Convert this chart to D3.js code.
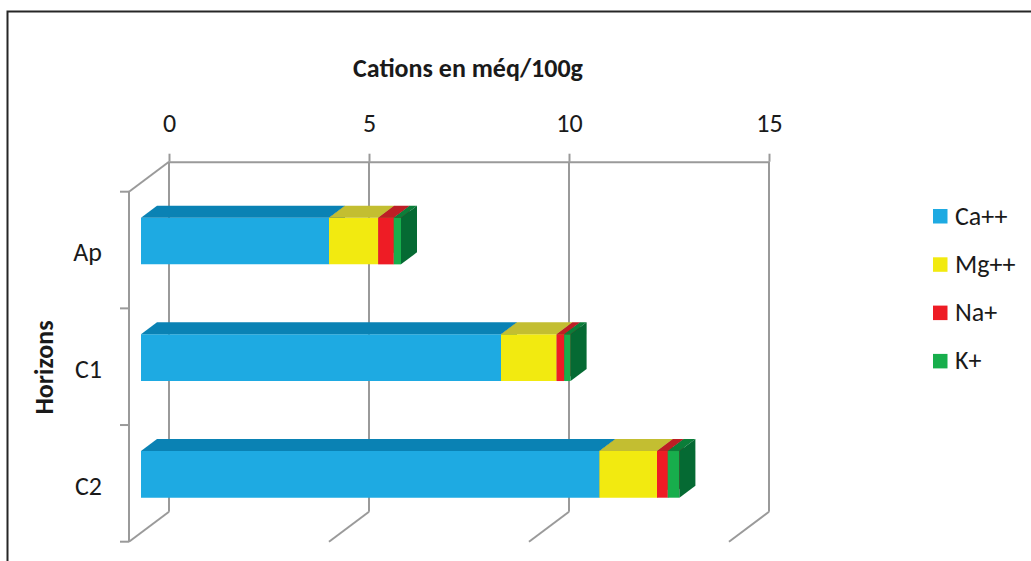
<!DOCTYPE html>
<html>
<head>
<meta charset="utf-8">
<script src="https://cdn.jsdelivr.net/npm/d3@7/dist/d3.min.js"></script>
<style>
  html, body { margin: 0; padding: 0; background: #fff; }
  svg { display: block; }
  text { font-family: Carlito, Lato, "Open Sans", sans-serif; fill: #1a1a1a; }
</style>
</head>
<body>
<svg id="chart" width="1031" height="561"></svg>
<script>
// Exchangeable cations per soil horizon (méq/100g)
const horizons = ["Ap", "C1", "C2"];
const seriesNames = ["Ca++", "Mg++", "Na+", "K+"];
const ca = [4.70, 9.00, 11.46];
const mg = [1.23, 1.39, 1.44];
const na = [0.39, 0.19, 0.27];
const k  = [0.18, 0.16, 0.29];
const xTicks = [0, 5, 10, 15];

const seriesValues = [ca, mg, na, k];
// front / top / side shades for each series
const faceColors = [
  { front: "#1eaae2", top: "#0a82b4", side: "#07668e" },
  { front: "#f2ea10", top: "#c3be31", side: "#9e9a22" },
  { front: "#ee1c25", top: "#bd1e25", side: "#961a1e" },
  { front: "#17ae4c", top: "#0b7e39", side: "#056a33" }
];

const FONT = "Carlito, Lato, 'Open Sans', sans-serif";
const svg = d3.select("#chart");

// outer frame
svg.append("rect")
  .attr("x", 7.5).attr("y", 11.5)
  .attr("width", 1100).attr("height", 600)
  .attr("fill", "none").attr("stroke", "#262626").attr("stroke-width", 2);

// oblique 3D: back wall scale, depth offset towards the front plane
const depthDX = -40, depthDY = 30;
const x = d3.scaleLinear().domain([0, 15]).range([169, 769]);
const backTop = 161.7, backBottom = 511.7;
// category bands on the front plane
const y = d3.scaleBand().domain(horizons).range([backTop + depthDY, backBottom + depthDY]).padding(0);

// project (value, frontY, z) with z=0 front plane, z=1 back wall
function P(v, fy, z) {
  return [x(v) + depthDX * (1 - z), fy - depthDY * z];
}

const gridColor = "#9a9a9a";
const grid = svg.append("g").attr("stroke", gridColor).attr("stroke-width", 2).attr("fill", "none");

// back wall verticals and floor diagonals
xTicks.forEach(v => {
  grid.append("line")
    .attr("x1", x(v)).attr("y1", backTop).attr("x2", x(v)).attr("y2", backBottom);
  grid.append("line")
    .attr("x1", x(v)).attr("y1", backBottom)
    .attr("x2", x(v) + depthDX).attr("y2", backBottom + depthDY);
});

// left wall edge: top diagonal and front vertical axis line
const frontX0 = x(0) + depthDX;
grid.append("line")
  .attr("x1", frontX0).attr("y1", backTop + depthDY).attr("x2", x(0)).attr("y2", backTop);
grid.append("line")
  .attr("x1", frontX0).attr("y1", backTop + depthDY).attr("x2", frontX0).attr("y2", backBottom + depthDY);

// category boundary ticks
const bounds = horizons.map(h => y(h)).concat([y(horizons[horizons.length - 1]) + y.bandwidth()]);
bounds.forEach(b => {
  grid.append("line").attr("x1", frontX0 - 9).attr("y1", b).attr("x2", frontX0).attr("y2", b);
});

// top value axis on the back wall
const xAxis = d3.axisTop(x).tickValues(xTicks).tickSizeInner(8).tickSizeOuter(0).tickPadding(22);
const gx = svg.append("g").attr("transform", `translate(0,${backTop})`).call(xAxis);
gx.select(".domain").attr("stroke", gridColor).attr("stroke-width", 2);
gx.selectAll(".tick line").attr("stroke", gridColor).attr("stroke-width", 2);
gx.selectAll(".tick text").attr("font-size", 26).attr("fill", "#1a1a1a").style("font-family", FONT);

// category axis labels
const yAxis = d3.axisLeft(y).tickSize(0).tickPadding(27);
const gy = svg.append("g").attr("transform", `translate(${frontX0},0)`).call(yAxis);
gy.select(".domain").remove();
gy.selectAll(".tick text").attr("font-size", 26).attr("dy", "0.44em")
  .attr("fill", "#1a1a1a").style("font-family", FONT);

// stacked 3D bars
const stackData = horizons.map((h, i) => {
  const row = { h };
  seriesNames.forEach((s, j) => { row[s] = seriesValues[j][i]; });
  return row;
});
const stacked = d3.stack().keys(seriesNames)(stackData);

const zFront = 0.3, zBack = 0.7;
const barFrac = 0.4;
const bars = svg.append("g");
const poly = pts => "M" + pts.map(p => p.join(",")).join("L") + "Z";
horizons.forEach((h, i) => {
  const cy = y(h) + y.bandwidth() / 2;
  const t = cy - y.bandwidth() * barFrac / 2;
  const b = cy + y.bandwidth() * barFrac / 2;
  stacked.forEach((layer, j) => {
    const [v0, v1] = layer[i];
    const c = faceColors[j];
    const ftl = P(v0, t, zFront), ftr = P(v1, t, zFront), fbr = P(v1, b, zFront), fbl = P(v0, b, zFront);
    const btl = P(v0, t, zBack), btr = P(v1, t, zBack), bbr = P(v1, b, zBack);
    bars.append("path").attr("d", poly([ftl, ftr, fbr, fbl])).attr("fill", c.front);
    bars.append("path").attr("d", poly([ftl, btl, btr, ftr])).attr("fill", c.top);
    bars.append("path").attr("d", poly([ftr, btr, bbr, fbr])).attr("fill", c.side);
  });
});

// titles
svg.append("text")
  .attr("x", 468).attr("y", 77)
  .attr("text-anchor", "middle").attr("font-size", 26).attr("font-weight", "bold")
  .text("Cations en méq/100g");

svg.append("text")
  .attr("transform", "translate(53,367.5) rotate(-90)")
  .attr("text-anchor", "middle").attr("font-size", 26).attr("font-weight", "bold")
  .text("Horizons");

// legend
const legend = svg.append("g").attr("transform", "translate(933,209)");
seriesNames.forEach((s, j) => {
  const g = legend.append("g").attr("transform", `translate(0,${j * 48.3})`);
  g.append("rect").attr("width", 14.5).attr("height", 14.5).attr("fill", faceColors[j].front);
  g.append("text").attr("x", 22).attr("y", 15.5).attr("font-size", 26).text(s);
});
</script>
</body>
</html>
